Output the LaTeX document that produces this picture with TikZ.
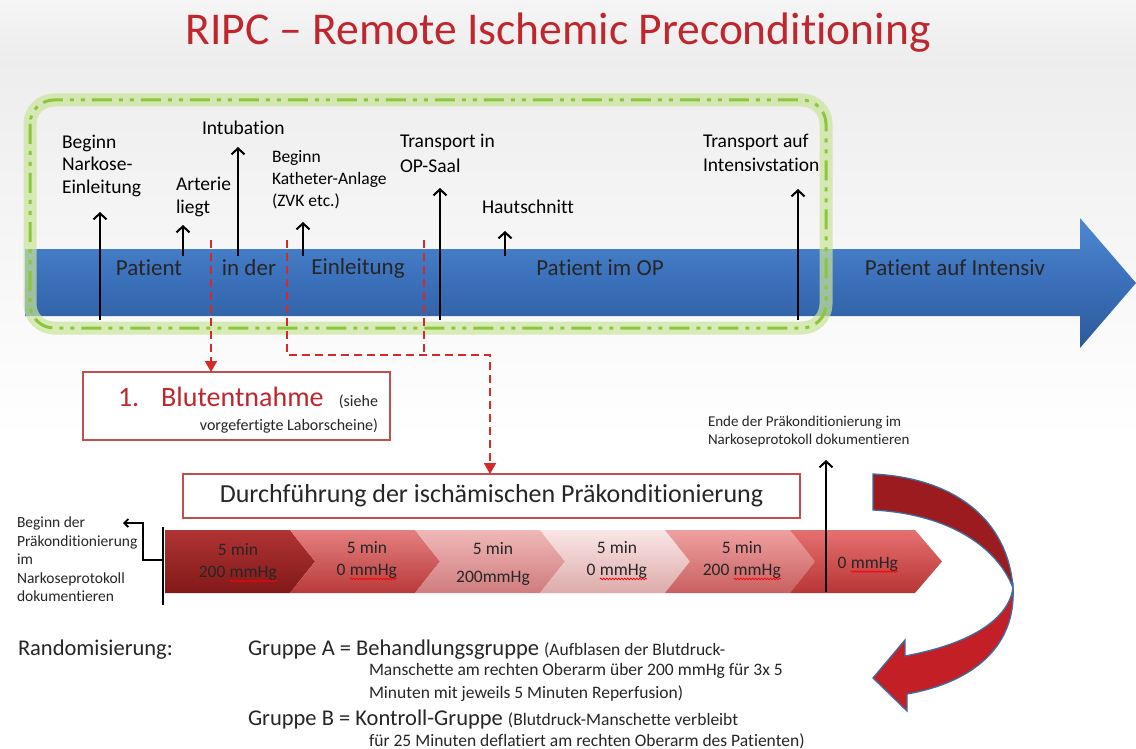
\documentclass[tikz,border=0pt]{standalone}
\usepackage{fontspec}
\setmainfont[Ligatures={NoCommon}]{Carlito}
\usetikzlibrary{arrows.meta,decorations.pathmorphing}
\newcommand\spellmark[1]{\tikz[baseline=(w.base)]{\node[inner sep=0pt,outer sep=0pt] (w) {#1}; \draw[red, line width=0.7pt, decorate, decoration={snake,amplitude=0.8pt,segment length=3pt}] ([yshift=-3pt]w.base west) -- ([yshift=-3pt]w.base east);}}
\definecolor{titlered}{HTML}{C0262D}
\definecolor{bartop}{HTML}{4E88D2}
\definecolor{barmid}{HTML}{3A6FB9}
\definecolor{barbot}{HTML}{2C5A98}
\definecolor{glowgreen}{HTML}{C9E59A}
\definecolor{dashgreen}{HTML}{8CC63F}
\definecolor{boxred}{HTML}{C0504D}
\definecolor{dashred}{HTML}{D42A2A}
\definecolor{arrdark}{HTML}{9B1B1F}
\definecolor{arrred}{HTML}{C21F27}
\definecolor{arrline}{HTML}{3F6D9E}
\definecolor{txtgray}{HTML}{262626}
\begin{document}
\begin{tikzpicture}[x=1pt,y=-1pt,
  every node/.style={inner sep=0pt, outer sep=0pt},
  evt/.style={draw=black, line width=2pt, -{Straight Barb[length=6pt,width=13pt]}},
  redd/.style={draw=dashred, line width=2pt, dash pattern=on 8pt off 5pt},
  redtip/.style={-{Triangle[length=11pt,width=12pt]}},
  lbl/.style={anchor=north west, align=left, font=\fontsize{19.5}{22.5}\selectfont},
  barlbl/.style={font=\fontsize{23}{26}\selectfont, text=txtgray},
  chev/.style={font=\fontsize{17.5}{22}\selectfont, align=center, text=txtgray},
  small/.style={font=\fontsize{15.5}{18.5}\selectfont, text=txtgray, align=left},
  big/.style={font=\fontsize{22.5}{26}\selectfont, text=txtgray},
  sm/.style={font=\fontsize{17.5}{21}\selectfont, text=txtgray},
]
\useasboundingbox (0,0) rectangle (1136,749);
% background
\fill[white] (0,0) rectangle (1136,749);
\shade[top color=black!4, bottom color=black!7] (0,0) rectangle (1136,60);
\shade[top color=black!7, bottom color=white] (0,60) rectangle (1136,440);

% title
\node[font=\fontsize{45.5}{52}\selectfont, text=titlered] (title) at (558,33) {RIPC – Remote Ischemic Preconditioning};

% blue timeline arrow
\shade[top color=bartop, bottom color=barbot, middle color=barmid]
  (25,249) -- (1080,249) -- (1080,218) -- (1136,283) -- (1080,348) -- (1080,316) -- (25,316) -- cycle;
\node[barlbl] (p1) at (149,268) {Patient};
\node[barlbl] (p2) at (249,268) {in der};
\node[barlbl] (p3) at (358,268) {Einleitung};
\node[barlbl] (p4) at (600,268) {Patient im OP};
\node[barlbl] (p5) at (955,268) {Patient auf Intensiv};

% green highlight frame
\draw[glowgreen, line width=13pt, opacity=0.7, rounded corners=24] (30,100) rectangle (826,328);
\draw[dashgreen, line width=3pt, rounded corners=24, dash pattern=on 20pt off 7pt on 4pt off 7pt on 4pt off 7pt] (30,100) rectangle (826,328);

% event labels
\node[lbl] (l1) at (62,135) {Beginn\\Narkose-\\Einleitung};
\node[lbl, font=\fontsize{19.5}{23}\selectfont] (l2) at (176,177) {Arterie\\liegt};
\node[lbl] (l3) at (202,121) {Intubation};
\node[lbl, font=\fontsize{17.5}{22}\selectfont] (l4) at (272,150) {Beginn\\Katheter-Anlage\\(ZVK etc.)};
\node[lbl, font=\fontsize{19.5}{25}\selectfont] (l5) at (400,134) {Transport in\\OP-Saal};
\node[lbl] (l6) at (482,200) {Hautschnitt};
\node[lbl, font=\fontsize{19.5}{24}\selectfont] (l7) at (703,134) {Transport auf\\Intensivstation};

% event arrows
\coordinate (b1) at (100,320); \coordinate (t1) at (100,212);
\coordinate (b2) at (183,256); \coordinate (t2) at (183,225);
\coordinate (b3) at (238,256); \coordinate (t3) at (238,147);
\coordinate (b4) at (303,256); \coordinate (t4) at (303,222);
\coordinate (b5) at (440,320); \coordinate (t5) at (440,188);
\coordinate (b6) at (505,256); \coordinate (t6) at (505,231);
\coordinate (b7) at (798,320); \coordinate (t7) at (798,189);
\foreach \i in {1,...,7} {\draw[evt] (b\i) -- (t\i);}

% boxes
\node[draw=boxred, line width=1.8pt, fill=white, minimum width=307pt, minimum height=68pt, anchor=north west] (blut) at (83,372) {};
\node[anchor=base west, text=titlered, font=\fontsize{28}{30}\selectfont] (bt1) at (118,406) {1.\hspace{22pt}Blutentnahme};
\node[anchor=base east, font=\fontsize{16}{18}\selectfont, text=txtgray] (bt2) at (378,406) {(siehe};
\node[anchor=base east, font=\fontsize{16}{18}\selectfont, text=txtgray] (bt3) at (378,430) {vorgefertigte Laborscheine)};

\node[draw=boxred, line width=1.8pt, fill=white, minimum width=617pt, minimum height=44pt, anchor=north west, font=\fontsize{26}{30}\selectfont, text=txtgray] (durch) at (183,474) {Durchführung der ischämischen Präkonditionierung};

% red dashed connectors
\coordinate (r1) at (211,240);
\coordinate (r2) at (287,240);
\coordinate (r3) at (424,240);
\coordinate (rj) at (490,355);
\draw[redd, redtip] (r1) -- (r1 |- blut.north);
\draw[redd, redtip] (r2) |- (rj) -- (rj |- durch.north);
\draw[redd] (r3) -- (r3 |- rj);

% chevrons
\definecolor{ct}{HTML}{B03434}\definecolor{cm}{HTML}{9C2424}\definecolor{cb}{HTML}{821818}
\shade[top color=ct, middle color=cm, bottom color=cb]
  (165,530) -- (290,530) -- (315,561.5) -- (290,593) -- (165,593) -- cycle;
\foreach \x/\ct/\cm/\cb in {290/E58080/D24E4E/B83A3A, 415/F0B8B8/E29A9A/CF7C7C, 540/FAE6E6/F0CACA/DDAAAA, 665/EFA0A0/DB7878/C86060}{
  \definecolor{ct}{HTML}{\ct}\definecolor{cm}{HTML}{\cm}\definecolor{cb}{HTML}{\cb}
  \shade[top color=ct, middle color=cm, bottom color=cb]
   (\x,530) -- ({\x+125},530) -- ({\x+150},561.5) -- ({\x+125},593) -- (\x,593) -- ({\x+25},561.5) -- cycle;
}
\definecolor{ct}{HTML}{E67070}\definecolor{cm}{HTML}{D24848}\definecolor{cb}{HTML}{B83535}
\shade[top color=ct, middle color=cm, bottom color=cb]
  (790,530) -- (915,530) -- (942,561.5) -- (915,593) -- (790,593) -- (815,561.5) -- cycle;

\node[chev] (c1) at (238,563) {5 min\\200 \spellmark{mmHg}};
\node[chev] (c2) at (367,561) {5 min\\0 \spellmark{mmHg}};
\node[chev, font=\fontsize{17.5}{28}\selectfont] (c3) at (493,564) {5 min\\200mmHg};
\node[chev] (c4) at (617,561) {5 min\\0 \spellmark{mmHg}};
\node[chev] (c5) at (742,561) {5 min\\200 \spellmark{mmHg}};
\node[chev] (c6) at (868,565) {0 \spellmark{mmHg}};

% start marker
\coordinate (sbot) at (163,605);
\coordinate (stop) at (163,527);
\draw[line width=2pt] (sbot) -- (stop);
\coordinate (sel) at (163,560);
\coordinate (sarr) at (123,523);
\draw[line width=1.8pt, -{Straight Barb[length=4pt,width=8pt]}] (sel) -| (143,523) -- (sarr);
\node[small, anchor=north west] (sl) at (17,517) {Beginn der\\Präkonditionierung\\im\\Narkoseprotokoll\\dokumentieren};

% end marker
\coordinate (eb) at (826,592);
\coordinate (et) at (826,460);
\draw[evt] (eb) -- (et);
\node[small, anchor=north west, font=\fontsize{15}{18}\selectfont] (el) at (708,416) {Ende der Präkonditionierung im\\Narkoseprotokoll dokumentieren};

% curved arrow
\filldraw[fill=arrdark, draw=arrline, line width=1.3pt]
  (873,474) .. controls (955,478) and (1008,520) .. (1013,588)
  .. controls (998,548) and (950,514) .. (873,510) -- cycle;
\filldraw[fill=arrred, draw=arrline, line width=1.3pt]
  (1013,588) .. controls (1016,645) and (975,682) .. (907,694)
  -- (907,711) -- (873,678) -- (905,640) -- (905,656)
  .. controls (965,645) and (1008,622) .. (1013,588) -- cycle;

% randomisation text
\node[anchor=base west, big] (rand) at (18,655) {Randomisierung:};
\node[anchor=base west, big] (ga) at (248,655) {Gruppe A = Behandlungsgruppe};
\node[anchor=base west, sm] (ga1) at ([xshift=5pt]ga.base east) {(Aufblasen der Blutdruck-};
\node[anchor=base west, sm] (ga2) at (369,675) {Manschette am rechten Oberarm über 200 mmHg für 3x 5};
\node[anchor=base west, sm] (ga3) at (369,698) {Minuten mit jeweils 5 Minuten Reperfusion)};
\node[anchor=base west, big] (gb) at (248,725) {Gruppe B = Kontroll-Gruppe};
\node[anchor=base west, sm] (gb1) at ([xshift=5pt]gb.base east) {(Blutdruck-Manschette verbleibt};
\node[anchor=base west, sm] (gb2) at (369,746) {für 25 Minuten deflatiert am rechten Oberarm des Patienten)};
\end{tikzpicture}
\end{document}
